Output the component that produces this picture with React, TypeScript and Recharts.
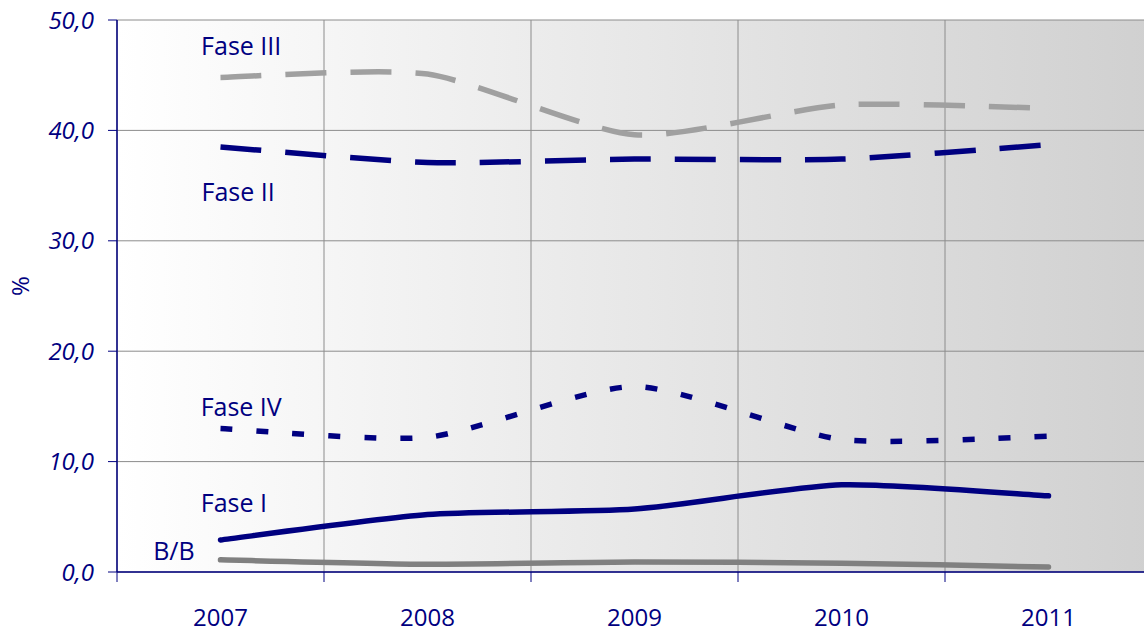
import React from 'react';
import { LineChart, Line, XAxis, YAxis, CartesianGrid, ReferenceDot } from 'recharts';

const years = ['2007', '2008', '2009', '2010', '2011'];
const faseIII = [44.8, 45.1, 39.6, 42.3, 42.0];
const faseII = [38.5, 37.1, 37.4, 37.4, 38.7];
const faseIV = [13.0, 12.2, 16.8, 12.0, 12.3];
const faseI = [2.9, 5.2, 5.7, 7.9, 6.9];
const bb = [1.1, 0.7, 0.9, 0.8, 0.45];
const yTicks = [0, 10, 20, 30, 40, 50];

// series labels placed in data units (x = category position, y = value)
const seriesLabels = [
    { text: 'Fase III', x: 0.6, y: 47.6 },
    { text: 'Fase II', x: 0.585, y: 34.4 },
    { text: 'Fase IV', x: 0.6, y: 14.9 },
    { text: 'Fase I', x: 0.565, y: 6.25 },
    { text: 'B/B', x: 0.275, y: 1.9 },
];

const NAVY = '#000080';
const FONT = '"Open Sans", sans-serif';

const data = years.map((year, i) => ({
    x: i + 0.5,
    year,
    faseIII: faseIII[i],
    faseII: faseII[i],
    faseIV: faseIV[i],
    faseI: faseI[i],
    bb: bb[i],
}));

const boundaryTicks = years.map((_, i) => i).concat(years.length);
const centerTicks = years.map((_, i) => i + 0.5);

// Excel-like smoothed line, softer tangents than a plain Catmull-Rom
const smooth = (ctx: any) => {
    let pts: number[][] = [];
    const k = 9;
    return {
        areaStart() {},
        areaEnd() {},
        lineStart() { pts = []; },
        point(x: number, y: number) { pts.push([+x, +y]); },
        lineEnd() {
            if (!pts.length) return;
            ctx.moveTo(pts[0][0], pts[0][1]);
            for (let i = 0; i < pts.length - 1; i++) {
                const p0 = pts[i - 1] || pts[i];
                const p1 = pts[i];
                const p2 = pts[i + 1];
                const p3 = pts[i + 2] || pts[i + 1];
                ctx.bezierCurveTo(
                    p1[0] + (p2[0] - p0[0]) / k, p1[1] + (p2[1] - p0[1]) / k,
                    p2[0] - (p3[0] - p1[0]) / k, p2[1] - (p3[1] - p1[1]) / k,
                    p2[0], p2[1],
                );
            }
        },
    };
};

const App: React.FC = () => {
    return (
        <div style={{ position: 'absolute', left: 0, top: 0, width: 1144, height: 634, overflow: 'hidden', background: '#fff' }}>
            <LineChart
                width={1160}
                height={634}
                data={data}
                margin={{ top: 20, right: 8, left: 0, bottom: 0 }}
                style={{ fontFamily: FONT }}
            >
                <defs>
                    <linearGradient id="bg" x1="0" y1="0" x2="1" y2="0">
                        <stop offset="0" stopColor="#ffffff" />
                        <stop offset="1" stopColor="#d0d0d0" />
                    </linearGradient>
                </defs>
                <CartesianGrid stroke="#8c8c8c" fill="url(#bg)" fillOpacity={1} />
                <XAxis
                    dataKey="x"
                    type="number"
                    domain={[0, 5]}
                    ticks={boundaryTicks}
                    tickFormatter={() => ''}
                    tickSize={10}
                    height={12}
                    stroke={NAVY}
                    axisLine={{ stroke: NAVY, strokeWidth: 1.5 }}
                    tickLine={{ stroke: NAVY }}
                />
                <XAxis
                    xAxisId="lbl"
                    dataKey="x"
                    type="number"
                    domain={[0, 5]}
                    ticks={centerTicks}
                    tickFormatter={(v: number) => years[Math.floor(v)]}
                    height={50}
                    axisLine={false}
                    tickLine={false}
                    tickSize={0}
                    tickMargin={25}
                    tick={{ fill: NAVY, fontSize: 24, fontFamily: FONT }}
                />
                <YAxis
                    width={117}
                    domain={[0, 50]}
                    ticks={yTicks}
                    tickFormatter={(v: number) => v.toFixed(1).replace('.', ',')}
                    tickSize={9}
                    tickMargin={14}
                    axisLine={{ stroke: NAVY, strokeWidth: 1.5 }}
                    tickLine={{ stroke: NAVY }}
                    tick={{ fill: NAVY, fontSize: 24, fontStyle: 'italic', fontFamily: FONT }}
                    label={{ value: '%', angle: -90, position: 'insideLeft', offset: 20, fill: NAVY, fontSize: 24, fontFamily: FONT }}
                />
                <Line type={smooth as any} dataKey="faseIII" stroke="#a0a0a0" strokeWidth={5.5} strokeDasharray="41 24" dot={false} isAnimationActive={false} />
                <Line type={smooth as any} dataKey="faseII" stroke={NAVY} strokeWidth={5.5} strokeDasharray="41 24" dot={false} isAnimationActive={false} />
                <Line type={smooth as any} dataKey="faseIV" stroke={NAVY} strokeWidth={5.5} strokeDasharray="12 24" dot={false} isAnimationActive={false} />
                <Line type={smooth as any} dataKey="faseI" stroke={NAVY} strokeWidth={5.5} strokeLinecap="round" dot={false} isAnimationActive={false} />
                <Line type={smooth as any} dataKey="bb" stroke="#808080" strokeWidth={5.5} strokeLinecap="round" dot={false} isAnimationActive={false} />
                {seriesLabels.map((l) => (
                    <ReferenceDot
                        key={l.text}
                        x={l.x}
                        y={l.y}
                        r={0}
                        fill="none"
                        stroke="none"
                        label={{ value: l.text, position: 'center', fill: NAVY, fontSize: 25, fontFamily: FONT }}
                    />
                ))}
            </LineChart>
        </div>
    );
};

export default App;
